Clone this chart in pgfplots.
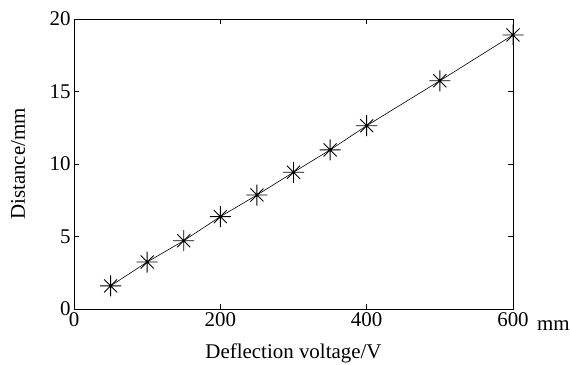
\documentclass[border=0pt]{standalone}
\usepackage{fontspec}
\setmainfont{Liberation Serif}
\usepackage{pgfplots}
\pgfplotsset{compat=1.18}
\pgfdeclareplotmark{mstar}{%
  \pgfpathmoveto{\pgfqpoint{-\pgfplotmarksize}{0pt}}%
  \pgfpathlineto{\pgfqpoint{\pgfplotmarksize}{0pt}}%
  \pgfpathmoveto{\pgfqpoint{0pt}{-\pgfplotmarksize}}%
  \pgfpathlineto{\pgfqpoint{0pt}{\pgfplotmarksize}}%
  \pgfpathmoveto{\pgfqpoint{-0.62\pgfplotmarksize}{-0.62\pgfplotmarksize}}%
  \pgfpathlineto{\pgfqpoint{0.62\pgfplotmarksize}{0.62\pgfplotmarksize}}%
  \pgfpathmoveto{\pgfqpoint{-0.62\pgfplotmarksize}{0.62\pgfplotmarksize}}%
  \pgfpathlineto{\pgfqpoint{0.62\pgfplotmarksize}{-0.62\pgfplotmarksize}}%
  \pgfusepathqstroke}
\begin{document}
\begin{tikzpicture}
\useasboundingbox (-74bp,-56bp) rectangle (496bp,309bp);
\begin{axis}[
  scale only axis,
  width=439bp, height=290bp,
  xmin=0, xmax=600, ymin=0, ymax=20,
  xtick={0,200,400,600},
  ytick={0,5,10,15,20},
  major tick length=5bp,
  axis line style={line width=0.6pt},
  tick style={line width=0.6pt, black},
  /pgf/number format/assume math mode=true,
  tick label style={font=\fontsize{21}{25}\selectfont},
  label style={font=\fontsize{21}{25}\selectfont},
  xlabel={Deflection voltage/V},
  ylabel={Distance/mm},
  xlabel style={at={(axis description cs:0.5,-0.17)}, anchor=base},
  ylabel style={at={(axis description cs:-0.112,0.5)}, anchor=base},
  clip=false,
]
\addplot[black, line width=0.6pt, mark=mstar, mark size=10.5bp,
  mark options={line width=0.9pt}] coordinates {
  (50,1.59) (100,3.24) (150,4.71) (200,6.37) (250,7.86)
  (300,9.43) (350,10.97) (400,12.64) (500,15.74) (600,18.9)
};
\node[anchor=base west, inner sep=0pt, font=\fontsize{21}{25}\selectfont]
  at ([xshift=24bp,yshift=-21bp]axis description cs:1,0) {mm};
\end{axis}
\end{tikzpicture}
\end{document}
